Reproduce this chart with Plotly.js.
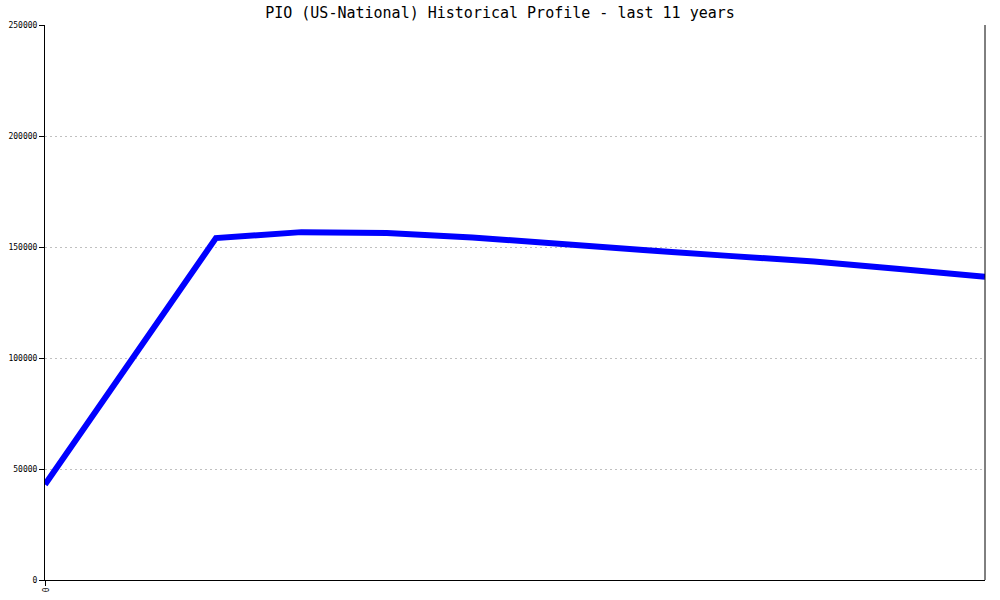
<!DOCTYPE html>
<html>
<head>
<meta charset="utf-8">
<script src="https://cdn.plot.ly/plotly-3.0.1.min.js"></script>
<style>html,body{margin:0;padding:0;background:#fff;}#chart{width:1000px;height:600px;}</style>
</head>
<body>
<div id="chart"></div>
<script>
var periods = [0, 1, 2, 3, 4, 5, 6, 7, 8, 9, 10, 11];
var counts = [43000, 98500, 154000, 156700, 156300, 154300, 151300, 148600, 146000, 143500, 140100, 136600];
var yTicks = [0, 50000, 100000, 150000, 200000, 250000];
var xTickVals = [0];
var xTickText = ['0'];

var trace = {
  x: periods,
  y: counts,
  type: 'scatter',
  mode: 'lines',
  line: {color: '#0000ff', width: 6},
  hoverinfo: 'none'
};

var layout = {
  width: 1000,
  height: 600,
  margin: {l: 45, r: 15, t: 25, b: 20},
  paper_bgcolor: '#ffffff',
  plot_bgcolor: '#ffffff',
  showlegend: false,
  title: {
    text: 'PIO (US-National) Historical Profile - last 11 years',
    font: {family: 'DejaVu Sans Mono, monospace', size: 15, color: '#000'},
    x: 0.5, xanchor: 'center', y: 0.979, yanchor: 'middle'
  },
  xaxis: {
    range: [0, 11],
    tickvals: xTickVals,
    ticktext: xTickText,
    tickangle: 90,
    showgrid: false,
    zeroline: false,
    showline: true,
    linecolor: '#000',
    linewidth: 1,
    ticks: 'outside',
    ticklen: 5,
    tickcolor: '#000',
    tickfont: {family: 'DejaVu Sans Mono, monospace', size: 8, color: '#000'}
  },
  yaxis: {
    range: [0, 250000],
    tickvals: yTicks,
    ticktext: yTicks.map(String),
    showgrid: true,
    gridcolor: '#c0c0c0',
    griddash: '2px,3px',
    gridwidth: 1,
    zeroline: false,
    showline: true,
    linecolor: '#000',
    linewidth: 1,
    ticks: 'outside',
    ticklen: 5,
    tickcolor: '#000',
    tickfont: {family: 'DejaVu Sans Mono, monospace', size: 8, color: '#000'}
  },
  shapes: [{
    type: 'line', xref: 'paper', yref: 'paper',
    x0: 1, x1: 1, y0: 0, y1: 1,
    line: {color: '#000', width: 1}
  }]
};

Plotly.newPlot('chart', [trace], layout, {displayModeBar: false, staticPlot: true});
</script>
</body>
</html>
